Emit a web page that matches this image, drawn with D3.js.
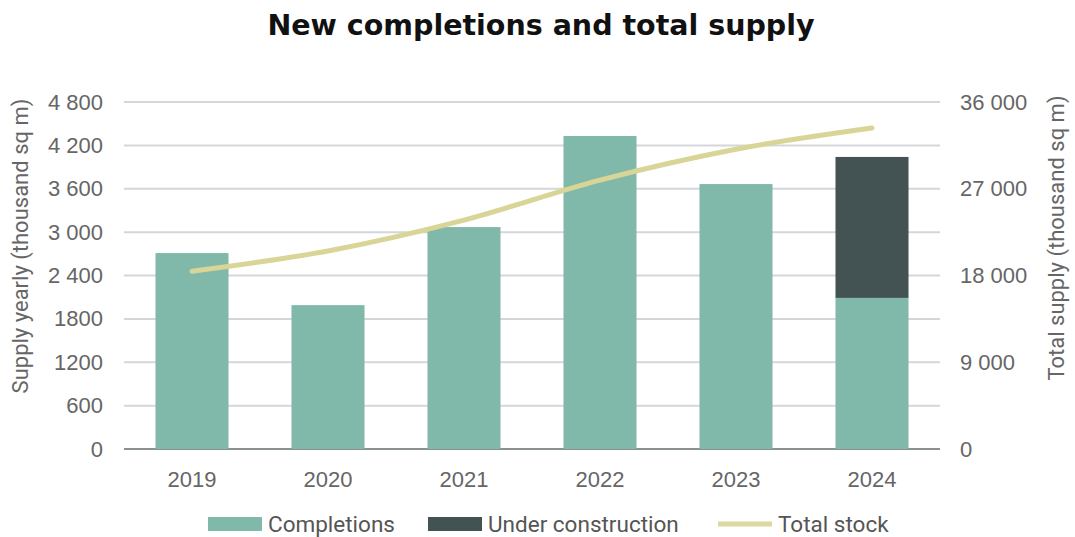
<!DOCTYPE html>
<html>
<head>
<meta charset="utf-8">
<script src="https://cdn.jsdelivr.net/npm/d3@7"></script>
<style>
  body { margin: 0; background: #fff; }
  svg { display: block; font-family: Roboto, "Noto Sans", sans-serif; }
  .tick text { fill: #666; font-size: 22px; }
</style>
</head>
<body>
<script>
const years = ['2019', '2020', '2021', '2022', '2023', '2024'];
const completions = [2710, 1990, 3070, 4330, 3665, 2090];
const underConstruction = [0, 0, 0, 0, 0, 1950];
const totalStock = [18450, 20550, 23750, 27900, 31100, 33300];
const leftTicks = [0, 600, 1200, 1800, 2400, 3000, 3600, 4200, 4800];
const rightTicks = [0, 9000, 18000, 27000, 36000];

const width = 1075;
const height = 537;
const plot = {left: 124, right: 940, top: 102, bottom: 449};

const fmtLeft = v => v >= 2000 ? d3.format(',')(v).replace(/,/g, ' ') : String(v);
const fmtRight = v => d3.format(',')(v).replace(/,/g, ' ');

const svg = d3.select('body').append('svg')
    .attr('width', width)
    .attr('height', height);

const x = d3.scaleBand()
  .domain(years)
  .range([plot.left, plot.right])
  .paddingInner(0.463)
  .paddingOuter(0.2315);

const y = d3.scaleLinear().domain([0, 4800]).range([plot.bottom, plot.top]);
const y2 = d3.scaleLinear().domain([0, 36000]).range([plot.bottom, plot.top]);

// gridlines
svg.append('g')
  .selectAll('line')
  .data(leftTicks)
  .enter().append('line')
    .attr('x1', plot.left)
    .attr('x2', plot.right)
    .attr('y1', d => y(d))
    .attr('y2', d => y(d))
    .attr('stroke', d => d === 0 ? '#8a8f91' : '#d3d7da')
    .attr('stroke-width', 2);

// left axis
const leftAxis = svg.append('g')
    .attr('transform', `translate(${plot.left},0)`)
    .call(d3.axisLeft(y).tickValues(leftTicks).tickFormat(fmtLeft).tickSize(0).tickPadding(21));
leftAxis.select('.domain').remove();

// right axis
const rightAxis = svg.append('g')
    .attr('transform', `translate(${plot.right},0)`)
    .call(d3.axisRight(y2).tickValues(rightTicks).tickFormat(fmtRight).tickSize(0).tickPadding(20));
rightAxis.select('.domain').remove();

// x axis
const xAxis = svg.append('g')
    .attr('transform', `translate(0,${plot.bottom})`)
    .call(d3.axisBottom(x).tickSize(0).tickPadding(22));
xAxis.select('.domain').remove();

// stacked bars
const rows = years.map((yr, i) => ({year: yr, completions: completions[i], under: underConstruction[i]}));
const stack = d3.stack().keys(['completions', 'under'])(rows);
const colors = {completions: '#80b9aa', under: '#435253'};

svg.append('g')
  .selectAll('g')
  .data(stack)
  .enter().append('g')
    .attr('fill', d => colors[d.key])
  .selectAll('rect')
  .data(d => d)
  .enter().append('rect')
    .attr('x', d => x(d.data.year))
    .attr('width', x.bandwidth())
    .attr('y', d => y(d[1]))
    .attr('height', d => y(d[0]) - y(d[1]));

// total stock line
const line = d3.line()
  .x((d, i) => x(years[i]) + x.bandwidth() / 2)
  .y(d => y2(d))
  .curve(d3.curveMonotoneX);

svg.append('path')
    .datum(totalStock)
    .attr('fill', 'none')
    .attr('stroke', '#d8d597')
    .attr('stroke-width', 5)
    .attr('stroke-linecap', 'round')
    .attr('d', line);

// axis titles
svg.append('text')
    .attr('transform', 'translate(28,246) rotate(-90)')
    .attr('text-anchor', 'middle')
    .attr('fill', '#666')
    .style('font-size', '22px')
    .text('Supply yearly (thousand sq m)');

svg.append('text')
    .attr('transform', 'translate(1064,238) rotate(-90)')
    .attr('text-anchor', 'middle')
    .attr('fill', '#666')
    .style('font-size', '22px')
    .text('Total supply (thousand sq m)');

// title
svg.append('text')
    .attr('x', 541)
    .attr('y', 35)
    .attr('text-anchor', 'middle')
    .attr('fill', '#111')
    .style('font-family', '"DejaVu Sans", sans-serif')
    .style('font-weight', 700)
    .style('font-size', '28.5px')
    .text('New completions and total supply');

// legend
const legend = [
  {label: 'Completions', color: '#80b9aa', type: 'rect', x: 208},
  {label: 'Under construction', color: '#435253', type: 'rect', x: 428},
  {label: 'Total stock', color: '#dcd9a0', type: 'line', x: 718}
];
const lg = svg.append('g')
  .selectAll('g')
  .data(legend)
  .enter().append('g')
    .attr('transform', d => `translate(${d.x},524)`);

lg.filter(d => d.type === 'rect').append('rect')
    .attr('x', 0).attr('y', -7).attr('width', 54).attr('height', 14)
    .attr('fill', d => d.color);
lg.filter(d => d.type === 'line').append('line')
    .attr('x1', 0).attr('x2', 54).attr('y1', 0).attr('y2', 0)
    .attr('stroke', d => d.color).attr('stroke-width', 5);
lg.append('text')
    .attr('x', 60)
    .attr('y', 8)
    .attr('fill', '#555')
    .style('font-size', '22.5px')
    .text(d => d.label);
</script>
</body>
</html>
